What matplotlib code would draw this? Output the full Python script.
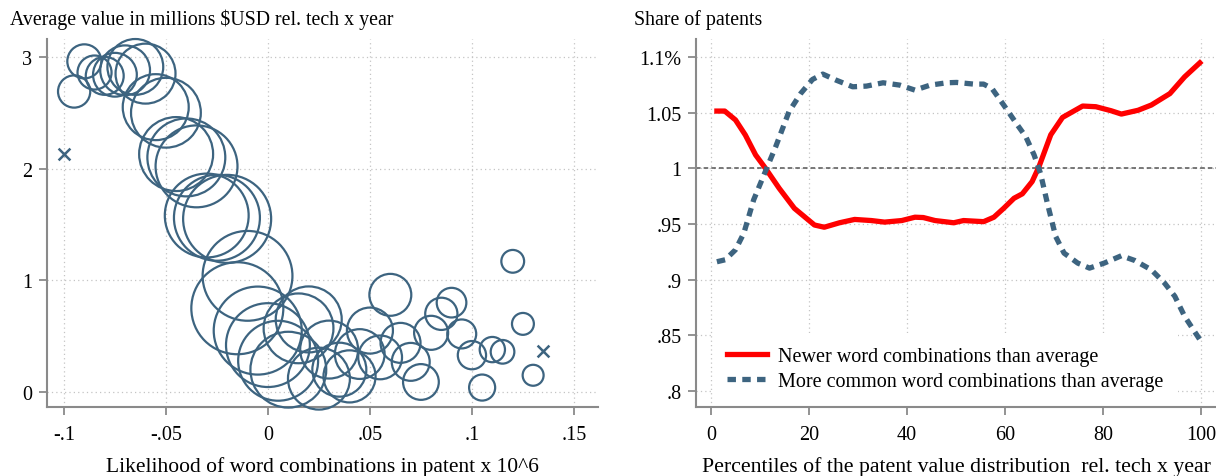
import matplotlib.pyplot as plt

plt.rcParams['font.family'] = ['Liberation Serif', 'DejaVu Serif']

# --- bubble panel: value by likelihood bin ---------------------------------
likelihood = [-0.095, -0.090, -0.085, -0.080, -0.075, -0.070, -0.065, -0.060,
              -0.055, -0.050, -0.045, -0.040, -0.035, -0.030, -0.025, -0.020,
              -0.015, -0.010, -0.005, 0.000, 0.005, 0.010, 0.015, 0.020,
              0.025, 0.030, 0.035, 0.040, 0.045, 0.050, 0.055, 0.060,
              0.065, 0.070, 0.075, 0.080, 0.085, 0.090, 0.095, 0.100,
              0.105, 0.110, 0.115, 0.120, 0.125, 0.130]
avg_value = [2.69, 2.96, 2.86, 2.83, 2.84, 2.88, 2.91, 2.85,
             2.55, 2.50, 2.13, 2.10, 2.02, 1.58, 1.56, 1.55,
             0.75, 1.04, 0.55, 0.42, 0.28, 0.20, 0.57, 0.65,
             0.12, 0.38, 0.20, 0.14, 0.34, 0.55, 0.31, 0.87,
             0.44, 0.27, 0.09, 0.53, 0.70, 0.80, 0.52, 0.33,
             0.04, 0.38, 0.36, 1.17, 0.61, 0.15]
bin_weight = [26, 29, 29, 36, 48, 62, 78, 90,
              109, 122, 137, 152, 168, 176, 185, 194,
              212, 202, 194, 176, 160, 144, 122, 109,
              96, 84, 73, 68, 62, 53, 48, 44,
              40, 36, 32, 29, 26, 22, 21, 20,
              17, 16, 14, 13, 12, 11]
# bins with too few patents, drawn as crosses
sparse_x = [-0.100, 0.135]
sparse_y = [2.13, 0.37]

x1_ticks = [-0.1, -0.05, 0, 0.05, 0.1, 0.15]
x1_labels = ['-.1', '-.05', '0', '.05', '.1', '.15']
y1_ticks = [0, 1, 2, 3]
y1_labels = ['0', '1', '2', '3']

# --- share of patents across value percentiles ----------------------------
pct_new = [1.2, 2.8, 5.0, 7.0, 9.1, 11.1, 13.9, 17.0, 21.1, 23.1, 26.2, 29.3,
           32.7, 35.4, 38.9, 41.6, 43.3, 45.7, 49.5, 51.5, 55.6, 57.7, 59.7,
           61.8, 63.5, 65.5, 66.9, 69.3, 71.7, 75.8, 78.5, 81.6, 83.7, 87.1,
           89.8, 93.6, 96.6, 99.7]
share_new = [1.0513, 1.0513, 1.0433, 1.0298, 1.0119, 1.0000, 0.9820, 0.9640,
             0.9490, 0.9470, 0.9510, 0.9540, 0.9530, 0.9516, 0.9530, 0.9560,
             0.9557, 0.9530, 0.9510, 0.9530, 0.9520, 0.9560, 0.9640, 0.9730,
             0.9770, 0.9880, 1.0014, 1.0300, 1.0456, 1.0558, 1.0552, 1.0516,
             1.0486, 1.0520, 1.0567, 1.0670, 1.0820, 1.0946]
pct_common = [1.2, 2.9, 5.0, 6.7, 8.7, 10.8, 13.2, 15.9, 18.3, 20.7, 22.8, 25.5,
              28.9, 31.7, 35.1, 38.5, 41.6, 44.7, 48.1, 50.1, 53.6, 55.6, 57.3,
              59.7, 62.5, 64.2, 65.9, 67.2, 68.6, 70.3, 72.0, 74.8, 77.2, 80.2,
              83.7, 86.4, 89.8, 92.5, 94.6, 96.6, 99.7]
share_common = [0.9160, 0.9178, 0.9268, 0.9417, 0.9716, 0.9940, 1.0194, 1.0507,
                1.0671, 1.0797, 1.0845, 1.0791, 1.0731, 1.0737, 1.0767, 1.0746,
                1.0701, 1.0746, 1.0767, 1.0770, 1.0755, 1.0755, 1.0716, 1.0567,
                1.0388, 1.0283, 1.0119, 0.9955, 0.9686, 0.9387, 0.9238, 0.9148,
                0.9103, 0.9148, 0.9214, 0.9172, 0.9088, 0.8969, 0.8850, 0.8670,
                0.8461]

x2_ticks = [0, 20, 40, 60, 80, 100]
x2_labels = ['0', '20', '40', '60', '80', '100']
y2_ticks = [0.8, 0.85, 0.9, 0.95, 1.0, 1.05, 1.1]
y2_labels = ['.8', '.85', '.9', '.95', '1', '1.05', '1.1%']

BLUE = '#3d6480'
RED = '#ff0000'
AXIS_GREY = '#8a8a8a'
GRID_GREY = '#c4c4c4'


def style_axes(ax):
    for side in ('top', 'right'):
        ax.spines[side].set_visible(False)
    for side in ('left', 'bottom'):
        ax.spines[side].set_color(AXIS_GREY)
        ax.spines[side].set_linewidth(1.5)
    ax.tick_params(direction='out', length=6, width=1.3, color=AXIS_GREY,
                   labelsize=14.5)
    ax.tick_params(axis='y', pad=4.5)
    ax.tick_params(axis='x', pad=7)
    ax.grid(True, linestyle=(0, (1, 2.5)), color=GRID_GREY, linewidth=0.9)
    ax.set_axisbelow(True)


fig = plt.figure(figsize=(12.16, 4.77), dpi=100)

# left panel
ax1 = fig.add_axes([47 / 1216, 69 / 477, 551 / 1216, 368 / 477])
style_axes(ax1)
ax1.scatter(likelihood, avg_value, s=[w * 20.7 for w in bin_weight],
            facecolors='none', edgecolors=BLUE, linewidths=1.6, clip_on=False,
            zorder=3)
ax1.scatter(sparse_x, sparse_y, marker='x', s=72, color=BLUE, linewidths=1.8,
            zorder=3)
ax1.set_xlim(-0.1083, 0.1618)
ax1.set_ylim(-0.134, 3.16)
ax1.set_xticks(x1_ticks, x1_labels)
ax1.set_yticks(y1_ticks, y1_labels)
ax1.set_xlabel('Likelihood of word combinations in patent x 10^6',
               fontsize=15.5, labelpad=9)
fig.text(10 / 1216, 1 - 20 / 477,
         'Average value in millions $USD rel. tech x year',
         ha='left', va='center', fontsize=14.3)

# right panel
ax2 = fig.add_axes([696 / 1216, 69 / 477, 520 / 1216, 368 / 477])
style_axes(ax2)
ax2.axhline(1, color='#555555', linewidth=1.1, linestyle=(0, (3, 2)), zorder=2)
ax2.plot(pct_new, share_new, color=RED, linewidth=3.8, solid_joinstyle='round',
         label='Newer word combinations than average', zorder=3)
ax2.plot(pct_common, share_common, color=BLUE, linewidth=3.8,
         linestyle=(0, (1.6, 1.2)),
         label='More common word combinations than average', zorder=3)
ax2.set_xlim(-3.06, 103.0)
ax2.set_ylim(0.7856, 1.116)
ax2.set_xticks(x2_ticks, x2_labels)
ax2.set_yticks(y2_ticks, y2_labels)
ax2.set_xlabel('Percentiles of the patent value distribution  rel. tech x year',
               fontsize=15.7, labelpad=9)
fig.text(634 / 1216, 1 - 20 / 477, 'Share of patents',
         ha='left', va='center', fontsize=14.3)

leg = ax2.legend(loc='lower left', bbox_to_anchor=(17 / 520, 2 / 368),
                 borderaxespad=0, frameon=True, fontsize=14.5,
                 handlelength=2.0, handletextpad=0.55, labelspacing=0.3,
                 borderpad=0.7)
leg.get_frame().set_facecolor('white')
leg.get_frame().set_edgecolor('none')
leg.get_frame().set_alpha(1)
leg.get_frame().set_boxstyle('square', pad=0)

fig.savefig('out.png', dpi=100)
